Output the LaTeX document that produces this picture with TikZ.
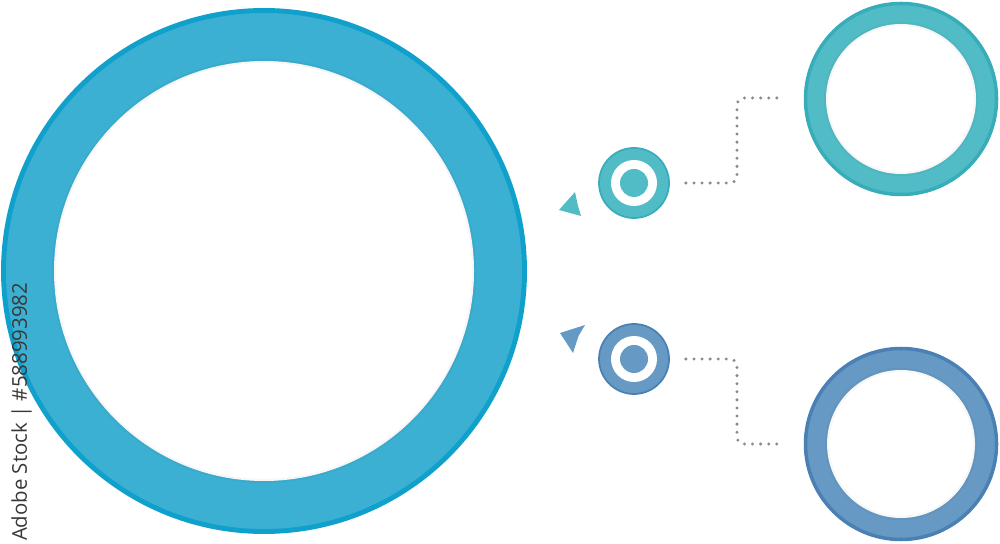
\documentclass[tikz,border=0pt]{standalone}
\usepackage{fontspec}
\setsansfont{Open Sans}
\usepackage{tikz}
\usetikzlibrary{positioning}
\definecolor{skyfill}{HTML}{3CB0D3}
\definecolor{skyline}{HTML}{0FA0CC}
\definecolor{tealfill}{HTML}{52BCC6}
\definecolor{tealline}{HTML}{36ADB9}
\definecolor{bluefill}{HTML}{6699C4}
\definecolor{blueline}{HTML}{4A80B3}
\definecolor{dotgray}{HTML}{8A8A8A}

\begin{document}
\begin{tikzpicture}[
    ring/.style={circle, inner sep=0pt, line width=1.0pt},
    hole/.style={circle, inner sep=0pt, fill=white, draw=black, draw opacity=0.03, line width=1.2pt},
    target/.style={circle, inner sep=0pt, line width=0.5pt, minimum size=0.70cm},
    dotline/.style={draw=dotgray, line width=0.95pt, line cap=round,
                    dash pattern=on 0pt off 2.3pt, rounded corners=2pt}]
      \useasboundingbox (0, 0) rectangle (10, 5.43);
      % big ring
      \node (bigring) [ring, draw=skyline, fill=skyfill, line width=1.4pt, minimum size=5.21cm] at (2.64, 2.72) {};
      \node (bighole) [hole, minimum size=4.20cm] at (bigring.center) {};
      % right rings
      \node (topring) [ring, draw=tealline, fill=tealfill, minimum size=1.91cm] at (9.01, 4.44) {};
      \node (tophole) [hole, minimum size=1.50cm] at (topring.center) {};
      \node (botring) [ring, draw=blueline, fill=bluefill, minimum size=1.91cm] at (9.01, 0.99) {};
      \node (bothole) [hole, minimum size=1.48cm] at (botring.center) {};
      % small targets
      \node (toptarget) [target, draw=tealline, fill=tealfill] at (6.34, 3.60) {};
      \node [circle, inner sep=0pt, fill=white, minimum size=0.46cm] at (toptarget.center) {};
      \node [circle, inner sep=0pt, fill=tealfill, minimum size=0.28cm] at (toptarget.center) {};
      \node (bottarget) [target, draw=blueline, fill=bluefill] at (6.34, 1.84) {};
      \node [circle, inner sep=0pt, fill=white, minimum size=0.46cm] at (bottarget.center) {};
      \node [circle, inner sep=0pt, fill=bluefill, minimum size=0.28cm] at (bottarget.center) {};
      % arrow heads
      \fill [tealfill] (5.59, 3.33) -- (5.75, 3.51) -- (5.78, 3.37) -- (5.81, 3.27) -- cycle;
      \fill [bluefill] (5.60, 2.10) -- (5.85, 2.18) -- (5.785, 2.07) -- (5.73, 1.90) -- cycle;
      % dotted connectors
      \coordinate (topbend) at (7.37, 4.45);
      \coordinate (topend) at ([xshift=-0.22cm]topring.west |- topbend);
      \coordinate (botbend) at (7.37, 0.99);
      \coordinate (botend) at ([xshift=-0.22cm]botring.west);
      \draw [dotline, shorten <=0.16cm] (toptarget.east) -| (topbend) -- (topend);
      \draw [dotline, shorten <=0.16cm] (bottarget.east) -| (botbend) -- (botend);
      % stock id
      \node (stockid) [rotate=90, text=black!78, font=\sffamily\fontsize{5.8}{6}\selectfont,
                       inner sep=0pt] at (0.215, 1.31) {Adobe Stock | \#588993982};
\end{tikzpicture}
\end{document}
